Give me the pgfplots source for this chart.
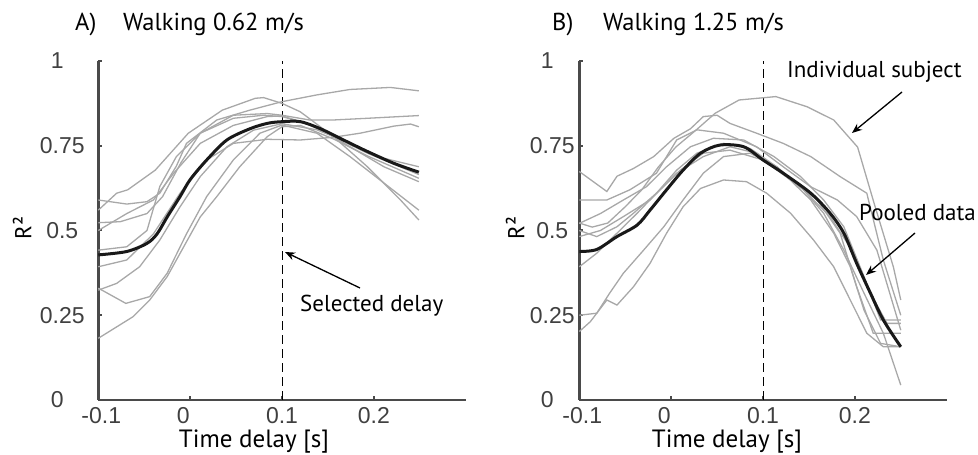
\documentclass[border=0pt]{standalone}
\usepackage{pgfplots}
\pgfplotsset{compat=1.18}
\usepackage{fontspec}
\setmainfont{PT Sans}
\newfontfamily\tickfont{Liberation Sans}
\usetikzlibrary{arrows.meta}
\definecolor{axgray}{HTML}{4A4A4A}
\definecolor{curvegray}{HTML}{A8A8A8}
\definecolor{ticktext}{HTML}{404040}
\pgfplotsset{
  myaxis/.style={
    scale only axis, width=367.4pt, height=339pt,
    xmin=-0.1, xmax=0.3, ymin=0, ymax=1,
    axis x line*=bottom, axis y line*=left,
    axis line style={axgray, line width=2.5pt},
    tick style={axgray, line width=2pt},
    major tick length=4pt, tick align=inside,
    xtick={-0.1,0,0.1,0.2},
    xticklabels={\hspace*{6pt}-0.1,0\hspace*{14pt},0.1,0.2},
    ytick={0,0.25,0.5,0.75,1},
    yticklabels={0\hspace*{10pt},0.25,0.5,0.75,1\hspace*{10pt}},
    ticklabel style={font=\tickfont\fontsize{23}{23}\selectfont, text=ticktext},
    yticklabel style={anchor=center, xshift=-36pt, inner sep=0pt},
    xticklabel style={anchor=north, inner sep=0pt, yshift=-7pt},
    clip=false,
  },
  gr/.style={curvegray, line width=1.3pt},
  pooled/.style={black!90, line width=3pt, smooth},
  sel/.style={black, line width=0.8pt, dash pattern=on 9pt off 5pt},
}
\begin{document}
\begin{tikzpicture}[x=1pt,y=1pt]
\useasboundingbox (0,0) rectangle (978,455);
% ---------------- Panel A ----------------
\begin{axis}[myaxis, at={(98.3pt,55pt)}, anchor=south west]
\addplot[sel] coordinates {(0.1,0) (0.1,1)};
\addplot[gr] coordinates {(-0.1,0.56) (-0.08,0.61) (-0.068,0.62) (-0.038,0.678) (-0.002,0.787) (0.035,0.855) (0.071,0.89) (0.08,0.892) (0.1,0.875) (0.12,0.85) (0.156,0.777) (0.193,0.688) (0.229,0.59) (0.249,0.531)};
\addplot[gr] coordinates {(-0.1,0.59) (-0.069,0.578) (-0.047,0.585) (-0.033,0.61) (-0.015,0.69) (-0.004,0.757) (0.029,0.826) (0.065,0.855) (0.1,0.88) (0.138,0.90) (0.174,0.916) (0.218,0.922) (0.249,0.912)};
\addplot[gr] coordinates {(-0.1,0.523) (-0.076,0.526) (-0.047,0.55) (-0.03,0.6) (-0.01,0.7) (0.011,0.787) (0.047,0.84) (0.084,0.845) (0.1,0.84) (0.13,0.826) (0.156,0.826) (0.193,0.831) (0.249,0.839)};
\addplot[gr] coordinates {(-0.1,0.50) (-0.069,0.55) (-0.04,0.59) (-0.018,0.669) (0.011,0.757) (0.047,0.81) (0.084,0.836) (0.1,0.838) (0.138,0.806) (0.174,0.747) (0.211,0.688) (0.249,0.644)};
\addplot[gr] coordinates {(-0.1,0.442) (-0.069,0.452) (-0.047,0.50) (-0.033,0.63) (-0.015,0.718) (0.011,0.787) (0.047,0.831) (0.08,0.84) (0.1,0.836) (0.127,0.816) (0.156,0.777) (0.193,0.728) (0.249,0.665)};
\addplot[gr] coordinates {(-0.1,0.393) (-0.069,0.413) (-0.04,0.49) (-0.011,0.61) (0.018,0.708) (0.047,0.757) (0.084,0.769) (0.12,0.767) (0.156,0.775) (0.185,0.787) (0.222,0.808) (0.24,0.814) (0.249,0.806)};
\addplot[gr] coordinates {(-0.1,0.324) (-0.08,0.344) (-0.055,0.393) (-0.033,0.472) (-0.011,0.57) (0.011,0.659) (0.04,0.747) (0.069,0.796) (0.1,0.815) (0.138,0.797) (0.174,0.757) (0.211,0.713) (0.249,0.688)};
\addplot[gr] coordinates {(-0.1,0.33) (-0.07,0.285) (-0.044,0.305) (-0.025,0.374) (-0.004,0.49) (0.018,0.6) (0.047,0.708) (0.076,0.787) (0.1,0.811) (0.138,0.787) (0.174,0.718) (0.211,0.64) (0.249,0.56)};
\addplot[gr] coordinates {(-0.1,0.182) (-0.062,0.246) (-0.044,0.295) (-0.025,0.364) (-0.007,0.452) (0.011,0.54) (0.029,0.60) (0.054,0.688) (0.084,0.777) (0.1,0.806) (0.12,0.81) (0.156,0.77) (0.193,0.72) (0.249,0.654)};
\addplot[pooled] coordinates {(-0.1,0.428) (-0.069,0.438) (-0.047,0.462) (-0.036,0.49) (-0.025,0.54) (-0.011,0.60) (0,0.65) (0.018,0.708) (0.04,0.767) (0.065,0.80) (0.084,0.816) (0.1,0.821) (0.12,0.821) (0.142,0.80) (0.167,0.767) (0.193,0.733) (0.222,0.698) (0.249,0.672)};
\end{axis}
% ---------------- Panel B ----------------
\begin{axis}[myaxis, at={(579.3pt,55pt)}, anchor=south west,
  yticklabel style={xshift=9pt}]
\addplot[sel] coordinates {(0.1,0) (0.1,1)};
\addplot[gr] coordinates {(-0.1,0.522) (-0.086,0.51) (-0.069,0.522) (-0.05,0.57) (-0.032,0.62) (-0.014,0.687) (0.005,0.746) (0.027,0.796) (0.048,0.846) (0.074,0.885) (0.114,0.895) (0.148,0.865) (0.177,0.826) (0.203,0.746) (0.221,0.58) (0.242,0.392) (0.25,0.295)};
\addplot[gr] coordinates {(-0.1,0.674) (-0.07,0.615) (-0.059,0.66) (-0.041,0.683) (-0.019,0.718) (0.003,0.772) (0.021,0.80) (0.035,0.836) (0.05,0.84) (0.064,0.816) (0.093,0.787) (0.122,0.757) (0.152,0.718) (0.184,0.659) (0.213,0.61) (0.231,0.413) (0.25,0.25)};
\addplot[gr] coordinates {(-0.1,0.59) (-0.07,0.59) (-0.045,0.62) (-0.016,0.669) (0.006,0.767) (0.028,0.797) (0.057,0.787) (0.093,0.747) (0.122,0.688) (0.152,0.629) (0.181,0.59) (0.202,0.541) (0.224,0.442) (0.25,0.206)};
\addplot[gr] coordinates {(-0.1,0.521) (-0.077,0.55) (-0.052,0.59) (-0.027,0.629) (-0.005,0.688) (0.021,0.747) (0.046,0.772) (0.079,0.767) (0.112,0.718) (0.141,0.659) (0.166,0.59) (0.188,0.511) (0.21,0.364) (0.228,0.236) (0.25,0.236)};
\addplot[gr] coordinates {(-0.1,0.50) (-0.081,0.482) (-0.059,0.511) (-0.041,0.551) (-0.016,0.61) (0.01,0.678) (0.035,0.728) (0.064,0.737) (0.1,0.708) (0.13,0.649) (0.159,0.59) (0.184,0.492) (0.202,0.334) (0.22,0.197) (0.25,0.197)};
\addplot[gr] coordinates {(-0.1,0.482) (-0.077,0.50) (-0.052,0.541) (-0.023,0.59) (0.006,0.669) (0.035,0.718) (0.064,0.747) (0.093,0.728) (0.122,0.669) (0.152,0.59) (0.177,0.492) (0.195,0.393) (0.21,0.265) (0.228,0.167) (0.25,0.157)};
\addplot[gr] coordinates {(-0.1,0.393) (-0.081,0.433) (-0.059,0.492) (-0.037,0.551) (-0.016,0.61) (0.006,0.678) (0.028,0.728) (0.057,0.757) (0.086,0.742) (0.115,0.688) (0.144,0.62) (0.166,0.551) (0.188,0.442) (0.21,0.315) (0.231,0.197) (0.25,0.044)};
\addplot[gr] coordinates {(-0.1,0.202) (-0.088,0.231) (-0.07,0.295) (-0.059,0.28) (-0.041,0.334) (-0.023,0.403) (-0.005,0.492) (0.013,0.57) (0.032,0.624) (0.057,0.649) (0.082,0.644) (0.104,0.61) (0.13,0.551) (0.155,0.472) (0.177,0.393) (0.195,0.295) (0.213,0.197) (0.231,0.157) (0.25,0.157)};
\addplot[gr] coordinates {(-0.1,0.25) (-0.081,0.256) (-0.067,0.315) (-0.052,0.374) (-0.03,0.442) (-0.008,0.511) (0.013,0.59) (0.035,0.669) (0.057,0.718) (0.086,0.728) (0.115,0.688) (0.144,0.62) (0.173,0.541) (0.199,0.433) (0.217,0.315) (0.235,0.226) (0.25,0.226)};
\addplot[pooled] coordinates {(-0.1,0.438) (-0.081,0.444) (-0.059,0.482) (-0.037,0.516) (-0.023,0.56) (-0.005,0.62) (0.013,0.678) (0.032,0.728) (0.053,0.752) (0.079,0.747) (0.1,0.708) (0.122,0.669) (0.152,0.61) (0.173,0.551) (0.188,0.492) (0.202,0.403) (0.217,0.315) (0.231,0.236) (0.25,0.157)};
\end{axis}
% ---------------- Texts ----------------
\tikzset{lab/.style={font=\fontsize{23}{23}\selectfont, inner sep=0pt}}
\node[lab, font=\fontsize{24.5}{24.5}\selectfont, anchor=base west] at (75,424) {A)};
\node[lab, font=\fontsize{24.5}{24.5}\selectfont, anchor=base west] at (123,424) {Walking 0.62 m/s};
\node[lab, font=\fontsize{24.5}{24.5}\selectfont, anchor=base west] at (552,424) {B)};
\node[lab, font=\fontsize{24.5}{24.5}\selectfont, anchor=base west] at (603,424) {Walking 1.25 m/s};
\node[lab, font=\fontsize{25}{25}\selectfont, anchor=base] at (254,7) {Time delay [s]};
\node[lab, font=\fontsize{25}{25}\selectfont, anchor=base] at (727,7) {Time delay [s]};
\node[lab, rotate=90] at (22,227) {R²};
\node[lab, rotate=90] at (515,227) {R²};
\node[lab, anchor=west] at (300,149) {Selected delay};
\node[lab, anchor=west] at (787,383) {Individual subject};
\node[lab, anchor=west] at (859,242) {Pooled data};
\draw[line width=1.3pt, -{Stealth[length=10pt,width=8pt]}] (360,167) -- (285,203);
\draw[line width=1.3pt, -{Stealth[length=10pt,width=8pt]}] (902,363) -- (852,322);
\draw[line width=1.3pt, -{Stealth[length=10pt,width=8pt]}] (915,222) -- (866,180);
\end{tikzpicture}
\end{document}
